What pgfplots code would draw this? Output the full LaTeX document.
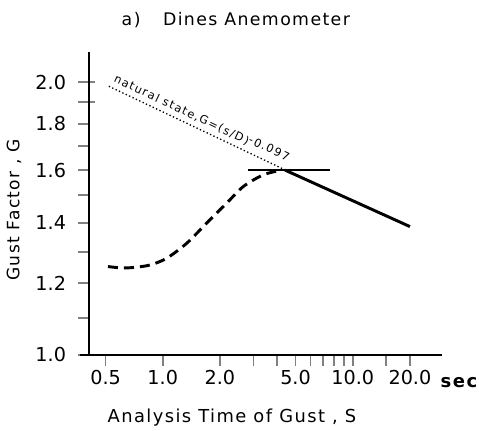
\documentclass[border=0pt]{standalone}
\usepackage{fontspec}
\setmainfont{DejaVu Sans}[LetterSpace=8]
\newfontfamily\plainfont{DejaVu Sans}
\newfontfamily\smallfont{DejaVu Sans}[LetterSpace=12]
\usepackage{pgfplots}
\pgfplotsset{compat=1.18}
\begin{document}
\begin{tikzpicture}
\useasboundingbox (-66.75pt,-57pt) rectangle (292.5pt,266.25pt);
\begin{axis}[
  at={(0pt,0pt)}, anchor=south west,
  scale only axis, width=264.75pt, height=227.25pt,
  xmode=log, ymode=log,
  xmin=0.409, xmax=29.5, ymin=1, ymax=2.16,
  axis x line=bottom, axis y line=left,
  axis line style={-, line width=1.5pt},
  tick align=outside,
  major tick length=8.25pt, minor tick length=8.25pt,
  xtick={0.5,1,2,5,10,20},
  xticklabels={0.5,1.0,2.0,5.0,10.0,20.0},
  minor xtick={3,4,6,7,8,9,15},
  ytick={1,1.2,1.4,1.6,1.8,2},
  yticklabels={1.0,1.2,1.4,1.6,1.8,2.0},
  minor ytick={1.1,1.3,1.5,1.7,1.9},
  xtick style={line width=1.3pt},
  ytick style={line width=1.5pt, shorten >=-4.5pt},
  ticklabel style={font=\plainfont\fontsize{14.4}{14.4}\selectfont},
  yticklabel style={xshift=-5.5pt},
  clip=false,
]
% dashed curve (Dines anemometer)
\addplot[black, line width=2.2pt, dash pattern=on 7.5pt off 4.5pt, smooth] coordinates {
  (0.515,1.252) (0.6,1.248) (0.7,1.249) (0.857,1.257) (1.05,1.279)
  (1.34,1.329) (1.70,1.398) (2.17,1.471) (2.66,1.535) (3.39,1.581) (4.23,1.600)
};
% natural state line
\addplot[black, line width=1pt, dash pattern=on 1pt off 1.8pt] coordinates {
  (0.52,1.98) (4.4,1.601)
} node[pos=0, sloped, anchor=south west, inner sep=1pt, yshift=2pt,
       font=\smallfont\fontsize{8.5}{8.5}\selectfont] {natural state,G=(s/D)\raisebox{0.4ex}{-0.097}};
% solid line
\addplot[black, line width=2.2pt] coordinates {
  (4.4,1.600) (20,1.386)
};
% horizontal level
\addplot[black, line width=1.1pt] coordinates {
  (2.81,1.600) (7.6,1.600)
};
\draw[line width=1.5pt] (rel axis cs:-0.026,0) -- (rel axis cs:0,0);
\node[font=\fontsize{13}{13}\selectfont] at (rel axis cs:0.416,1.106) {a)\hspace{1.3em}Dines Anemometer};
\node[font=\fontsize{12.8}{12.8}\selectfont, rotate=90] at (rel axis cs:-0.2125,0.479) {Gust Factor , G};
\node[font=\fontsize{13.4}{13.4}\selectfont] at (rel axis cs:0.405,-0.208) {Analysis Time of Gust , S};
\node[font=\bfseries\fontsize{13.5}{13.5}\selectfont] at (rel axis cs:1.048,-0.0924) {sec};
\end{axis}
\end{tikzpicture}
\end{document}
